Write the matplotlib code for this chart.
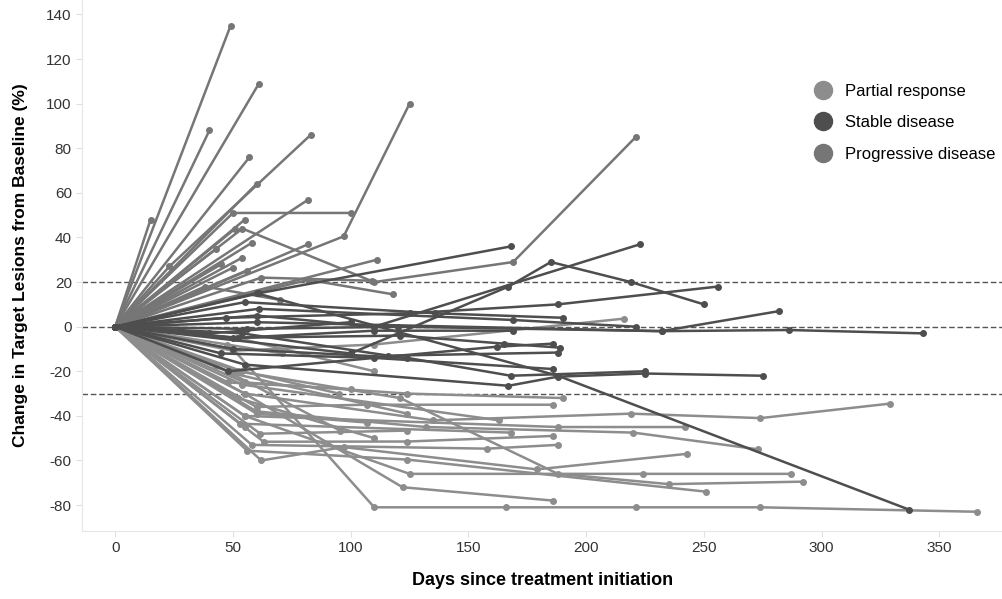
import matplotlib
matplotlib.use("Agg")
import matplotlib.pyplot as plt
from matplotlib.lines import Line2D

plt.rcParams['font.family'] = ['Liberation Sans', 'DejaVu Sans']
plt.rcParams['axes.unicode_minus'] = False

# colours per response group
c_pr = '#8d8d8d'
c_sd = '#4e4e4e'
c_pd = '#767676'

# progressive disease
pd_days = [[0, 49], [0, 61], [0, 40], [0, 57], [0, 60], [0, 15], [0, 23, 83],
           [0, 50, 100], [0, 97, 125], [0, 54, 110, 169, 221], [0, 82], [0, 55],
           [0, 51], [0, 43], [0, 58], [0, 82], [0, 54], [0, 50], [0, 62, 109],
           [0, 111], [0, 82, 118], [0, 56], [0, 45], [0, 38, 70]]
pd_vals = [[0, 135], [0, 109], [0, 88], [0, 76], [0, 64], [0, 48], [0, 27, 86],
           [0, 51, 51], [0, 40.5, 100], [0, 44, 20, 29, 85], [0, 57], [0, 48],
           [0, 44], [0, 35], [0, 37.6], [0, 37], [0, 31], [0, 26.5], [0, 22, 20.6],
           [0, 30], [0, 21, 14.5], [0, 25], [0, 28], [0, 18, 12]]

# stable disease
sd_days = [[0, 61, 168], [0, 100, 167, 185, 219, 250], [0, 60, 110, 223],
           [0, 47, 125, 188, 256], [0, 55, 136, 190], [0, 60, 232, 282],
           [0, 56, 120, 232, 286, 343], [0, 55, 167, 188, 225, 275],
           [0, 50, 124, 168, 225], [0, 60, 188, 337], [0, 50, 121, 165, 189],
           [0, 54, 116, 188], [0, 52, 110, 169], [0, 61, 169, 221],
           [0, 48, 162, 186], [0, 45, 110, 186], [0, 40, 100]]
sd_vals = [[0, 15, 36], [0, -12, 18, 29, 20, 10], [0, 5, 0, 37],
           [0, 4, 6, 10, 18], [0, 11, 6, 4], [0, 2, -2, 7],
           [0, -1, 0, -2, -1.5, -3], [0, -17, -26.5, -22.4, -21, -22],
           [0, -10, -14, -22, -20], [0, 15, -22, -82], [0, -5, -4, -7.6, -9.4],
           [0, -3, -13, -11.6], [0, -5, -1.8, -1.8], [0, 8, 3, 0],
           [0, -20, -9, -7.6], [0, -12, -14, -19], [0, -3, 2]]

# partial response
pr_days = [[0, 50, 110, 166, 221, 274, 366], [0, 55, 122, 186],
           [0, 55, 125, 224, 287], [0, 55, 135, 219, 274, 329],
           [0, 60, 132, 220, 273], [0, 55, 188, 242], [0, 62, 97, 179, 243],
           [0, 52, 121, 188, 235, 292], [0, 56, 124, 251], [0, 55, 124, 190],
           [0, 60, 107, 186], [0, 54, 163], [0, 63, 124, 186], [0, 58, 158, 188],
           [0, 53, 168], [0, 61.6, 124], [0, 60, 107], [0, 50, 124], [0, 43, 95.5],
           [0, 50, 110, 216], [0, 51.7, 110], [0, 54, 95], [0, 47.5, 71],
           [0, 55], [0, 48, 100], [0, 52, 110]]
pr_vals = [[0, -10, -81, -81, -81, -81, -83], [0, -30, -72, -78],
           [0, -40, -66, -66, -66], [0, -30, -42, -39, -41, -34.5],
           [0, -38, -45, -47.5, -55], [0, -40, -45, -45], [0, -60, -54, -64, -57],
           [0, -20, -32, -66, -70.6, -69.5], [0, -55.6, -59.6, -74], [0, -25, -30, -32],
           [0, -36, -35, -35], [0, -26, -42], [0, -51.6, -51.5, -49], [0, -53, -54.7, -53],
           [0, -43.5, -47.5], [0, -48, -46.6], [0, -39, -43], [0, -21, -39], [0, -17.5, -46.6],
           [0, -10.8, -8, 3.6], [0, -5, -20], [0, -20, -30], [0, -8, -12],
           [0, -45], [0, -25, -28], [0, -32, -50]]

ref_lines = [20, 0, -30]
xticks = [0, 50, 100, 150, 200, 250, 300, 350]
yticks = [-80, -60, -40, -20, 0, 20, 40, 60, 80, 100, 120, 140]

fig = plt.figure(figsize=(10.03, 5.99), dpi=100)
ax = fig.add_axes([0.082, 0.114, 0.918, 0.886])

for d, v in zip(pr_days, pr_vals):
    ax.plot(d, v, color=c_pr, lw=1.8, marker='o', ms=4, zorder=2)
for d, v in zip(pd_days, pd_vals):
    ax.plot(d, v, color=c_pd, lw=1.8, marker='o', ms=4, zorder=3)
for d, v in zip(sd_days, sd_vals):
    ax.plot(d, v, color=c_sd, lw=1.8, marker='o', ms=4, zorder=4)

for y in ref_lines:
    ax.axhline(y, color='#555555', lw=1, ls=(0, (4, 2)), zorder=1)

ax.set_xlim(-14, 377)
ax.set_ylim(-91.5, 146.5)
ax.set_xticks(xticks)
ax.set_yticks(yticks)
ax.tick_params(axis='both', colors='#e0e0e0', labelcolor='#333333', labelsize=11, length=4)
for s in ['top', 'right']:
    ax.spines[s].set_visible(False)
for s in ['left', 'bottom']:
    ax.spines[s].set_color('#e6e6e6')

ax.set_xlabel('Days since treatment initiation', fontsize=13, fontweight='bold', labelpad=12)
ax.set_ylabel('Change in Target Lesions from Baseline (%)', fontsize=12.5, fontweight='bold', labelpad=13)

handles = [Line2D([], [], ls='none', marker='o', ms=13, color=c, label=l)
           for c, l in [(c_pr, 'Partial response'), (c_sd, 'Stable disease'),
                        (c_pd, 'Progressive disease')]]
ax.legend(handles=handles, loc='upper left', bbox_to_anchor=(0.779, 0.855), frameon=False,
          fontsize=12, handletextpad=0.3, labelspacing=1.0, borderaxespad=0)

fig.savefig('out.png', dpi=100)
